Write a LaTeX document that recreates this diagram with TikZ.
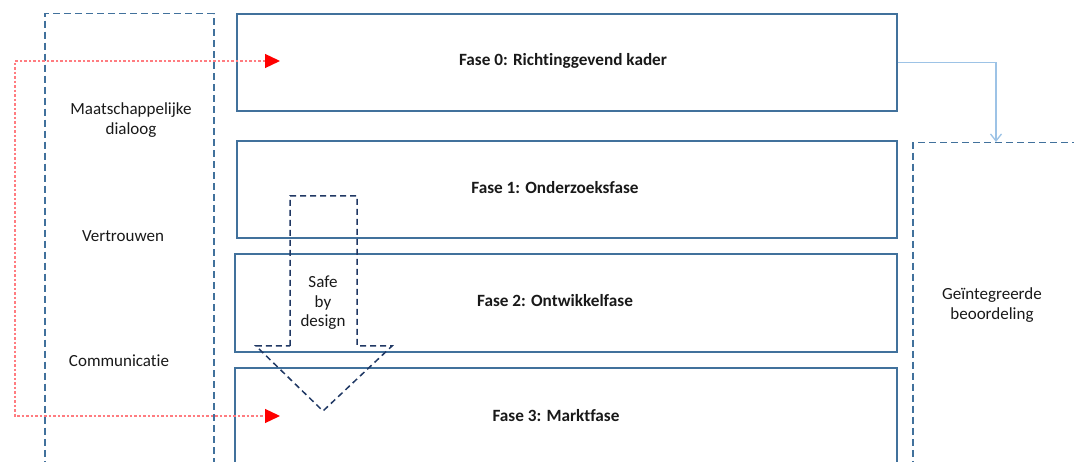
\documentclass[tikz,border=0pt]{standalone}
\usepackage{fontspec}
\setmainfont{Carlito}[Ligatures={NoCommon}]
\usetikzlibrary{arrows.meta}
\definecolor{boxblue}{HTML}{41719C}
\definecolor{navyline}{HTML}{203864}
\definecolor{lightline}{HTML}{9DC3E6}
\definecolor{dotred}{HTML}{FF7C80}
\begin{document}
\begin{tikzpicture}[x=1pt,y=-1pt,
  txt/.style={font=\fontsize{17}{19.5}\selectfont, align=center, inner sep=0pt, text=black!90},
  btxt/.style={txt, font=\fontsize{17.2}{20}\selectfont\bfseries},
  phasebox/.style={draw=boxblue, line width=1.6pt, anchor=north west, minimum width=660pt, minimum height=97pt, inner sep=0pt},
  dashbox/.style={draw=boxblue, line width=1.5pt, dash pattern=on 7pt off 4pt, anchor=north west, inner sep=0pt},
  safe/.style={draw=navyline, line width=1.5pt, dash pattern=on 6pt off 4pt, line join=miter},
  conn/.style={draw=lightline, line width=1.3pt, -{Straight Barb[length=7pt,width=11pt]}},
  redline/.style={draw=dotred, line width=1.3pt, dash pattern=on 2.5pt off 2pt,
    {Triangle[length=15pt,width=14pt,fill=red,color=red]}-{Triangle[length=15pt,width=14pt,fill=red,color=red]}}
]
\useasboundingbox (0,0) rectangle (1074,462);
% left dashed column
\node[dashbox, minimum width=169pt, minimum height=480pt] (left) at (44,13) {};
% right dashed column
\node[dashbox, minimum width=200pt, minimum height=360pt] (right) at (912,142) {};
% phase boxes
\node[phasebox] (f0) at (236,13) {};
\node[phasebox] (f1) at (236,140) {};
\node[phasebox, minimum width=662pt, minimum height=98pt] (f2) at (234,253) {};
\node[phasebox, minimum width=662pt, minimum height=120pt] (f3) at (234,367) {};
% phase labels
\node[btxt] (l0) at (563,61) {Fase 0: Richtinggevend kader};
\node[btxt] (l1) at (555,188) {Fase 1: Onderzoeksfase};
\node[btxt] (l2) at (555,301) {Fase 2: Ontwikkelfase};
\node[btxt] (l3) at (556,416) {Fase 3: Marktfase};
% left labels
\node[txt] (m) at (131,120) {Maatschappelijke\\dialoog};
\node[txt] (v) at (123,236) {Vertrouwen};
\node[txt] (c) at (119,361) {Communicatie};
% right label
\node[txt] (g) at (992,305) {Geïntegreerde\\beoordeling};
% safe by design arrow
\draw[safe] (290,346) -- (290,196) -- (357,196) -- (357,346) -- (392,346) -- (323,411) -- (256,346) -- cycle;
\node[txt] (s) at (323,303) {Safe\\by\\design};
% light blue connector
\coordinate (rin) at (996,142);
\draw[conn] (f0.east) -| (rin);
% red dotted bracket
\coordinate (r0) at (280,61);
\coordinate (r3) at (280,416);
\coordinate (k0) at (15,61);
\coordinate (k3) at (15,416);
\draw[redline] (r0) -- (k0) -- (k3) -- (r3);
\end{tikzpicture}
\end{document}
